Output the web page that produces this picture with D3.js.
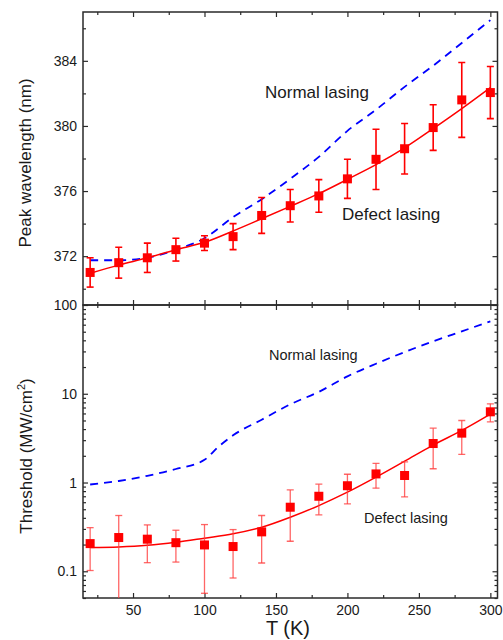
<!DOCTYPE html>
<html><head><meta charset="utf-8">
<script src="https://cdn.jsdelivr.net/npm/d3@7"></script>
<style>body{margin:0;background:#fff}svg{display:block;font-family:"Liberation Sans",Arial,sans-serif}</style>
</head><body>
<svg id="c" width="503" height="640"></svg>
<script>
// ---- data ----
const temps = [20,40,60,80,100,120,140,160,180,200,220,240,260,280,300];
// top panel: peak wavelength (nm), defect lasing
const wavelength = [371.0,371.6,371.9,372.4,372.8,373.2,374.5,375.1,375.7,376.75,377.95,378.6,379.9,381.6,382.05];
const wavelengthErr = [0.9,0.95,0.9,0.7,0.45,0.8,1.1,1.0,1.0,1.2,1.85,1.55,1.4,2.3,1.6];
const wavelengthFit = [370.95,371.45,371.9,372.4,372.85,373.55,374.3,375.06,375.84,376.72,377.62,378.65,379.84,381.07,382.36];
const normalWavelength = [371.75,371.75,371.9,372.4,373.1,374.4,375.5,376.75,378.1,379.7,381.0,382.4,383.7,385.1,386.5];
// bottom panel: threshold (MW/cm2), defect lasing
const threshold = [0.205,0.24,0.23,0.21,0.198,0.19,0.278,0.527,0.70,0.92,1.25,1.2,2.75,3.6,6.26];
const thresholdHigh = [0.31,0.425,0.333,0.29,0.336,0.295,0.425,0.826,0.958,1.24,1.64,1.71,4.1,5.0,7.71];
const thresholdLow = [0.102,0.03,0.125,0.127,0.0565,0.084,0.124,0.218,0.432,0.574,0.863,0.689,1.43,2.07,4.83];
const thresholdFit = [0.185,0.188,0.196,0.212,0.236,0.264,0.313,0.406,0.55,0.778,1.15,1.74,2.64,3.86,5.9];
const normalTemps = [20,40,60,80,100,110,120,140,160,180,200,220,240,260,280,300];
const normalThreshold = [0.95,1.04,1.19,1.42,1.8,2.55,3.4,5.1,7.6,10.5,15.7,21.8,29.5,39,50.5,65.5];
const xTicks = [50,100,150,200,250,300];
const xMinor = [25,75,125,175,225,275];
const wlTicks = [372,376,380,384];
const wlMinor = [370,374,378,382,386];
const thrTicks = [0.1,1,10,100];
const thrTickLabels = ["0.1","1","10","100"];

// ---- layout ----
const svg = d3.select("#c");
const L = 83, R = 497.5, T1 = 12, MID = 305, B2 = 598;
const x = d3.scaleLinear().domain([15,305]).range([L,R]);
const yTop = d3.scaleLinear().domain([369,387]).range([MID,T1]);
const yBot = d3.scaleLog().domain([0.05,100]).range([B2,MID]);
const red = "#ff0000", blue = "#0000ff", axisCol = "#2a2a2a";

svg.append("defs").selectAll("clipPath").data([["cTop",T1,MID],["cBot",MID,B2]]).join("clipPath")
  .attr("id",d=>d[0]).append("rect").attr("x",L).attr("y",d=>d[1]).attr("width",R-L).attr("height",d=>d[2]-d[1]);

function styleAxis(g, fs){
  g.select(".domain").remove();
  g.selectAll(".tick line").attr("stroke",axisCol).attr("stroke-width",1.2);
  g.selectAll(".tick text").attr("fill","#1a1a1a").attr("font-size",fs);
}
function xAxes(yPos, dir, labels){
  const maj = (dir==="up"? d3.axisBottom(x) : d3.axisTop(x)).tickValues(xTicks).tickSize(-5).tickPadding(7)
    .tickFormat(labels? d3.format("d") : "");
  const mn = (dir==="up"? d3.axisBottom(x) : d3.axisTop(x)).tickValues(xMinor).tickSize(-3).tickFormat("");
  styleAxis(svg.append("g").attr("transform",`translate(0,${yPos})`).call(maj),"14px");
  styleAxis(svg.append("g").attr("transform",`translate(0,${yPos})`).call(mn),"14px");
}
// top panel axes
xAxes(T1,"down",false);
xAxes(MID,"up",false);
styleAxis(svg.append("g").attr("transform",`translate(${L},0)`).call(d3.axisLeft(yTop).tickValues(wlTicks).tickSize(-5).tickPadding(6).tickFormat(d3.format("d"))),"14px");
styleAxis(svg.append("g").attr("transform",`translate(${L},0)`).call(d3.axisLeft(yTop).tickValues(wlMinor).tickSize(-3).tickFormat("")),"14px");
styleAxis(svg.append("g").attr("transform",`translate(${R},0)`).call(d3.axisRight(yTop).tickValues(wlTicks).tickSize(-5).tickFormat("")),"14px");
styleAxis(svg.append("g").attr("transform",`translate(${R},0)`).call(d3.axisRight(yTop).tickValues(wlMinor).tickSize(-3).tickFormat("")),"14px");
// bottom panel axes
xAxes(MID,"down",false);
xAxes(B2,"up",true);
const logMinor = [];
[0.01,0.1,1,10].forEach(d=>{for(let k=2;k<=9;k++){const v=d*k; if(v>=0.05&&v<=100) logMinor.push(v);}});
styleAxis(svg.append("g").attr("transform",`translate(${L},0)`).call(d3.axisLeft(yBot).tickValues(thrTicks).tickSize(-5).tickPadding(6).tickFormat((d,i)=>thrTickLabels[i])),"14px");
styleAxis(svg.append("g").attr("transform",`translate(${L},0)`).call(d3.axisLeft(yBot).tickValues(logMinor).tickSize(-3).tickFormat("")),"14px");
styleAxis(svg.append("g").attr("transform",`translate(${R},0)`).call(d3.axisRight(yBot).tickValues(thrTicks).tickSize(-5).tickFormat("")),"14px");
styleAxis(svg.append("g").attr("transform",`translate(${R},0)`).call(d3.axisRight(yBot).tickValues(logMinor).tickSize(-3).tickFormat("")),"14px");
// frames
svg.append("rect").attr("x",L).attr("y",T1).attr("width",R-L).attr("height",MID-T1).attr("fill","none").attr("stroke",axisCol).attr("stroke-width",1.5);
svg.append("rect").attr("x",L).attr("y",MID).attr("width",R-L).attr("height",B2-MID).attr("fill","none").attr("stroke",axisCol).attr("stroke-width",1.5);

// ---- top panel marks ----
const gT = svg.append("g").attr("clip-path","url(#cTop)");
gT.append("path").datum(temps.map((t,i)=>[t,normalWavelength[i]]))
  .attr("d",d3.line().x(d=>x(d[0])).y(d=>yTop(d[1])).curve(d3.curveMonotoneX))
  .attr("fill","none").attr("stroke",blue).attr("stroke-width",1.8).attr("stroke-dasharray","8,6");
gT.append("path").datum(temps.map((t,i)=>[t,wavelengthFit[i]]))
  .attr("d",d3.line().x(d=>x(d[0])).y(d=>yTop(d[1])).curve(d3.curveMonotoneX))
  .attr("fill","none").attr("stroke",red).attr("stroke-width",1.5);
const eT = gT.append("g").attr("stroke",red).attr("stroke-width",1.6);
temps.forEach((t,i)=>{
  const hi = yTop(wavelength[i]+wavelengthErr[i]), lo = yTop(wavelength[i]-wavelengthErr[i]), cx = x(t);
  eT.append("line").attr("x1",cx).attr("x2",cx).attr("y1",hi).attr("y2",lo);
  eT.append("line").attr("x1",cx-3.5).attr("x2",cx+3.5).attr("y1",hi).attr("y2",hi);
  eT.append("line").attr("x1",cx-3.5).attr("x2",cx+3.5).attr("y1",lo).attr("y2",lo);
});
gT.selectAll("rect.m").data(temps).join("rect").attr("class","m")
  .attr("x",(d)=>x(d)-4.5).attr("y",(d,i)=>yTop(wavelength[i])-4.5).attr("width",9).attr("height",9).attr("fill",red);

// ---- bottom panel marks ----
const gB = svg.append("g").attr("clip-path","url(#cBot)");
gB.append("path").datum(normalTemps.map((t,i)=>[t,normalThreshold[i]]))
  .attr("d",d3.line().x(d=>x(d[0])).y(d=>yBot(d[1])).curve(d3.curveMonotoneX))
  .attr("fill","none").attr("stroke",blue).attr("stroke-width",1.8).attr("stroke-dasharray","8,6");
gB.append("path").datum(temps.map((t,i)=>[t,thresholdFit[i]]))
  .attr("d",d3.line().x(d=>x(d[0])).y(d=>yBot(d[1])).curve(d3.curveMonotoneX))
  .attr("fill","none").attr("stroke",red).attr("stroke-width",1.5);
const eB = gB.append("g").attr("stroke","#ff4040").attr("stroke-opacity",0.8).attr("stroke-width",1.3);
temps.forEach((t,i)=>{
  const hi = yBot(thresholdHigh[i]), lo = yBot(thresholdLow[i]), cx = x(t);
  eB.append("line").attr("x1",cx).attr("x2",cx).attr("y1",hi).attr("y2",lo);
  eB.append("line").attr("x1",cx-3.5).attr("x2",cx+3.5).attr("y1",hi).attr("y2",hi);
  eB.append("line").attr("x1",cx-3.5).attr("x2",cx+3.5).attr("y1",lo).attr("y2",lo);
});
gB.selectAll("rect.m").data(temps).join("rect").attr("class","m")
  .attr("x",(d)=>x(d)-4.5).attr("y",(d,i)=>yBot(threshold[i])-4.5).attr("width",9).attr("height",9).attr("fill",red);

// ---- text ----
const txt = (s,xx,yy,fs)=>svg.append("text").attr("x",xx).attr("y",yy).attr("font-size",fs).attr("fill","#1a1a1a").text(s);
txt("Normal lasing",265,98,"17px");
txt("Defect lasing",342,220,"17px");
txt("Normal lasing",269,360,"14.5px");
txt("Defect lasing",364,523,"14.5px");
svg.append("text").attr("transform","translate(31,163) rotate(-90)").attr("text-anchor","middle")
  .attr("font-size","17px").attr("fill","#1a1a1a").text("Peak wavelength (nm)");
const yl = svg.append("text").attr("transform","translate(32,456) rotate(-90)").attr("text-anchor","middle")
  .attr("font-size","17px").attr("fill","#1a1a1a");
yl.append("tspan").text("Threshold (MW/cm");
yl.append("tspan").attr("font-size","11px").attr("dy","-7").text("2");
yl.append("tspan").attr("dy","7").text(")");
svg.append("text").attr("x",288).attr("y",635).attr("text-anchor","middle").attr("font-size","20px").attr("fill","#1a1a1a").text("T (K)");
</script>
</body></html>
